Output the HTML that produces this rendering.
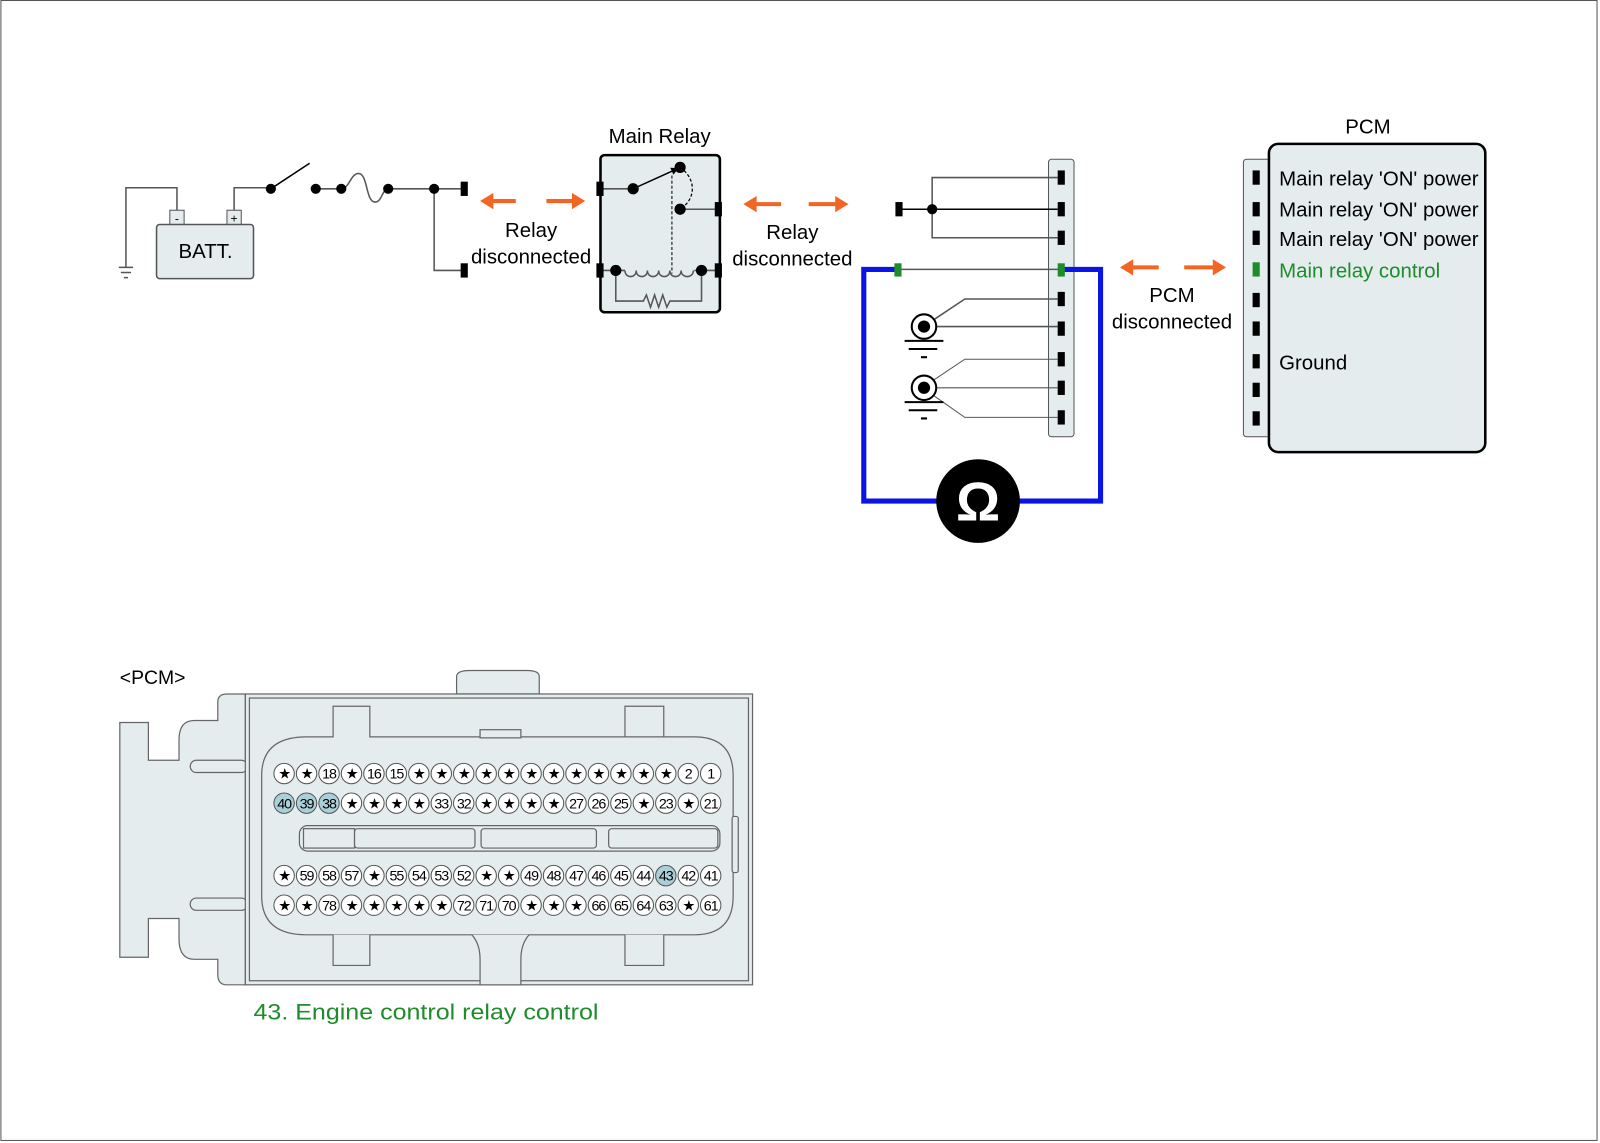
<!DOCTYPE html>
<html><head><meta charset="utf-8"><style>
html,body{margin:0;padding:0;background:#fff;}
svg{display:block;}
text{font-family:"Liberation Sans",Arial,sans-serif;}
</style></head><body>
<svg width="1600" height="1143" viewBox="0 0 1567 1120" xmlns="http://www.w3.org/2000/svg">
<defs>
<marker id="ah" viewBox="0 0 10 10" refX="9" refY="5" markerWidth="5" markerHeight="5" orient="auto"><path d="M0,0 L10,5 L0,10z" fill="#000"/></marker>
</defs>
<rect x="0.5" y="0.5" width="1564" height="1117" fill="#fff" stroke="#555" stroke-width="1"/>

<!-- Battery -->
<g stroke="#555" stroke-width="1.5" fill="none">
<path d="M173,206 V184 H123 V262"/>
<path d="M229,206 V184 H265"/>
<path d="M116,262 H130 M118,267 H128 M121,272 H125"/>
</g>
<rect x="166" y="206" width="14" height="14" fill="#e4ecee" stroke="#555"/>
<rect x="222" y="206" width="14" height="14" fill="#e4ecee" stroke="#555"/>
<text x="173" y="218" font-size="12" text-anchor="middle">-</text>
<text x="229" y="218" font-size="12" text-anchor="middle">+</text>
<rect x="153" y="220" width="95" height="53" rx="3" fill="#e4ecee" stroke="#555" stroke-width="1.5"/>
<text x="201" y="253" font-size="20" text-anchor="middle">BATT.</text>
<line x1="265" y1="185" x2="303" y2="160" stroke="#000" stroke-width="1.5"/>
<g stroke="#555" stroke-width="1.5" fill="none">
<path d="M309,185 H334"/>
<path d="M334,185 C342,185 343,170 351,170 C360,170 358,198 367,198 C374,198 374,185 380,185 H452"/>
<path d="M425,185 V265 H452"/>
</g>
<g fill="#000">
<circle cx="265" cy="185" r="5"/><circle cx="309" cy="185" r="5"/><circle cx="334" cy="185" r="5"/><circle cx="380" cy="185" r="5"/><circle cx="425" cy="185" r="5"/>
<rect x="451" y="178" width="7" height="14"/><rect x="451" y="258" width="7" height="14"/>
</g>

<!-- arrows -->
<g stroke="#f26522" stroke-width="4" fill="#f26522">
<line x1="480" y1="197" x2="505" y2="197"/><path d="M470,197 L483,189 L483,205z" stroke="none"/>
<line x1="535" y1="197" x2="562" y2="197"/><path d="M573,197 L560,189 L560,205z" stroke="none"/>
<line x1="738" y1="200" x2="765" y2="200"/><path d="M728,200 L741,192 L741,208z" stroke="none"/>
<line x1="792" y1="200" x2="820" y2="200"/><path d="M831,200 L818,192 L818,208z" stroke="none"/>
<line x1="1107" y1="262" x2="1135" y2="262"/><path d="M1097,262 L1110,254 L1110,270z" stroke="none"/>
<line x1="1160" y1="262" x2="1190" y2="262"/><path d="M1201,262 L1188,254 L1188,270z" stroke="none"/>
</g>
<g font-size="20" text-anchor="middle">
<text x="520" y="232">Relay</text><text x="520" y="258">disconnected</text>
<text x="776" y="234">Relay</text><text x="776" y="260">disconnected</text>
<text x="1148" y="296">PCM</text><text x="1148" y="322">disconnected</text>
<text x="646" y="140">Main Relay</text>
<text x="1340" y="131">PCM</text>
</g>

<!-- Main relay -->
<rect x="588" y="152" width="117" height="154" rx="4" fill="#e4ecee" stroke="#000" stroke-width="2.5"/>
<g stroke="#555" stroke-width="1.5" fill="none">
<path d="M588,185 H620"/>
<path d="M666,205 H703"/>
<path d="M588,265 H612 M680,265 H703"/>
<path d="M612,265 c0,8 11,8 11,0 c0,8 11,8 11,0 c0,8 11,8 11,0 c0,8 11,8 11,0 c0,8 11,8 11,0 c0,8 12,8 12,0"/>
<path d="M603,265 V295 H630 l3,-6 l4,12 l4,-12 l4,12 l4,-12 l4,12 l3,-6 H687 V265"/>
</g>
<line x1="620" y1="185" x2="664" y2="165" stroke="#000" stroke-width="1.5" marker-end="url(#ah)"/>
<path d="M666,164 C682,175 682,195 666,205" stroke="#000" stroke-width="1.2" stroke-dasharray="3,2" fill="none"/>
<line x1="658" y1="172" x2="658" y2="268" stroke="#000" stroke-width="1" stroke-dasharray="3,2"/>
<g fill="#000">
<circle cx="620" cy="185" r="5.5"/><circle cx="666" cy="164" r="5.5"/><circle cx="666" cy="205" r="5.5"/><circle cx="603" cy="265" r="5.5"/><circle cx="687" cy="265" r="5.5"/>
<rect x="584" y="178" width="7" height="14"/><rect x="584" y="258" width="7" height="14"/>
<rect x="700" y="198" width="7" height="14"/><rect x="700" y="258" width="7" height="14"/>
</g>

<!-- middle connector -->
<rect x="1027" y="156" width="25" height="272" rx="3" fill="#e4ecee" stroke="#555"/>
<g stroke="#555" stroke-width="1.5" fill="none">
<path d="M1036,174 H913 V233 H1036"/>
<path d="M880,205 H1036" stroke="#000"/>
<path d="M880,264 H1040"/>
<path d="M915,313 L945,293 H1036 M905,320 H1036"/>
<path d="M915,372 L945,352 H1036 M905,380 H1036 M915,388 L945,409 H1036" stroke-width="1"/>
</g>
<path d="M880,264 H846 V491 H1078 V264 H1040" stroke="#0a14e6" stroke-width="5" fill="none"/>
<g fill="#000">
<rect x="877" y="198" width="7" height="14"/><circle cx="913" cy="205" r="5"/>
<rect x="1036" y="167" width="7" height="14"/><rect x="1036" y="198" width="7" height="14"/><rect x="1036" y="226" width="7" height="14"/>
<rect x="1036" y="286" width="7" height="14"/><rect x="1036" y="315" width="7" height="14"/><rect x="1036" y="345" width="7" height="14"/><rect x="1036" y="373" width="7" height="14"/><rect x="1036" y="402" width="7" height="14"/>
</g>
<rect x="876" y="258" width="7" height="13" fill="#1e8c2a"/>
<rect x="1036" y="258" width="7" height="13" fill="#1e8c2a"/>
<g stroke="#000" stroke-width="2" fill="#fff">
<circle cx="905" cy="320" r="12"/><circle cx="905" cy="380" r="12"/>
</g>
<g fill="#000"><circle cx="905" cy="320" r="6"/><circle cx="905" cy="380" r="6"/></g>
<g stroke="#000" stroke-width="2">
<path d="M886,334 H924 M890,342 H918 M902,350 H908"/>
<path d="M886,394 H924 M890,402 H918 M902,410 H908"/>
</g>
<circle cx="958" cy="491" r="41" fill="#000"/>
<text x="958" y="510" font-size="54" font-weight="bold" fill="#fff" text-anchor="middle">Ω</text>

<!-- PCM -->
<rect x="1218" y="156" width="30" height="272" rx="3" fill="#e4ecee" stroke="#555"/>
<rect x="1243" y="141" width="212" height="302" rx="9" fill="#e4ecee" stroke="#000" stroke-width="2.5"/>
<g fill="#000">
<rect x="1227" y="167" width="7" height="14"/><rect x="1227" y="198" width="7" height="14"/><rect x="1227" y="226" width="7" height="14"/>
<rect x="1227" y="287" width="7" height="14"/><rect x="1227" y="315" width="7" height="14"/><rect x="1227" y="347" width="7" height="14"/><rect x="1227" y="375" width="7" height="14"/><rect x="1227" y="403" width="7" height="14"/>
</g>
<rect x="1227" y="257" width="7" height="14" fill="#1e8c2a"/>
<g font-size="20">
<text x="1253" y="182">Main relay 'ON' power</text>
<text x="1253" y="212">Main relay 'ON' power</text>
<text x="1253" y="241">Main relay 'ON' power</text>
<text x="1253" y="272" fill="#1e8c2a">Main relay control</text>
<text x="1253" y="362">Ground</text>
</g>

<!-- Lower connector -->
<text x="117" y="670" font-size="19">&lt;PCM&gt;</text>
<g fill="#e4ecee" stroke="#666" stroke-width="1.2">
<path d="M117,708 H145 V745 H175 V725 Q175,706 190,706 H213 V688 Q213,680 222,680 H240 V965 H222 Q213,965 213,955 V940 H190 Q175,940 175,920 V900 H145 V938 H117 Z"/>
<rect x="186" y="745" width="56" height="12" rx="6"/>
<rect x="186" y="880" width="56" height="12" rx="6"/>
<path d="M447,680 V663 Q447,657 460,657 H516 Q528,657 528,663 V680 Z"/>
<rect x="240" y="680" width="497" height="285"/>
<rect x="244" y="684" width="489" height="277" fill="none"/>
<path d="M256,760 Q256,722 300,722 H326 V692 H362 V722 H650 V692 H612 V722 H680 Q718,722 718,760 V878 Q718,916 680,916 H300 Q256,916 256,878 Z"/>
<rect x="470" y="715" width="40" height="8"/>
<path d="M326,916 V946 H362 V916 M612,916 V946 H650 V916"/>
<path d="M462,916 Q470,925 470,940 V965 H510 V940 Q510,925 518,916"/>
<rect x="717" y="800" width="6" height="55" rx="2"/>
<rect x="293" y="809" width="412" height="25" rx="8"/>
<rect x="297" y="812" width="50" height="19"/>
<rect x="347" y="812" width="118" height="19" rx="3"/>
<rect x="471" y="812" width="113" height="19" rx="3"/>
<rect x="596" y="812" width="107" height="19" rx="3"/>
</g>
<g stroke="#555" stroke-width="1" fill="#fff">
<circle cx="278" cy="758" r="10"/><circle cx="300" cy="758" r="10"/><circle cx="322" cy="758" r="10"/><circle cx="344" cy="758" r="10"/><circle cx="366" cy="758" r="10"/><circle cx="388" cy="758" r="10"/><circle cx="410" cy="758" r="10"/><circle cx="432" cy="758" r="10"/><circle cx="454" cy="758" r="10"/><circle cx="476" cy="758" r="10"/><circle cx="498" cy="758" r="10"/><circle cx="520" cy="758" r="10"/><circle cx="542" cy="758" r="10"/><circle cx="564" cy="758" r="10"/><circle cx="586" cy="758" r="10"/><circle cx="608" cy="758" r="10"/><circle cx="630" cy="758" r="10"/><circle cx="652" cy="758" r="10"/><circle cx="674" cy="758" r="10"/><circle cx="696" cy="758" r="10"/>
<circle cx="278" cy="787" r="10" fill="#a9cfd8"/><circle cx="300" cy="787" r="10" fill="#a9cfd8"/><circle cx="322" cy="787" r="10" fill="#a9cfd8"/><circle cx="344" cy="787" r="10"/><circle cx="366" cy="787" r="10"/><circle cx="388" cy="787" r="10"/><circle cx="410" cy="787" r="10"/><circle cx="432" cy="787" r="10"/><circle cx="454" cy="787" r="10"/><circle cx="476" cy="787" r="10"/><circle cx="498" cy="787" r="10"/><circle cx="520" cy="787" r="10"/><circle cx="542" cy="787" r="10"/><circle cx="564" cy="787" r="10"/><circle cx="586" cy="787" r="10"/><circle cx="608" cy="787" r="10"/><circle cx="630" cy="787" r="10"/><circle cx="652" cy="787" r="10"/><circle cx="674" cy="787" r="10"/><circle cx="696" cy="787" r="10"/>
<circle cx="278" cy="858" r="10"/><circle cx="300" cy="858" r="10"/><circle cx="322" cy="858" r="10"/><circle cx="344" cy="858" r="10"/><circle cx="366" cy="858" r="10"/><circle cx="388" cy="858" r="10"/><circle cx="410" cy="858" r="10"/><circle cx="432" cy="858" r="10"/><circle cx="454" cy="858" r="10"/><circle cx="476" cy="858" r="10"/><circle cx="498" cy="858" r="10"/><circle cx="520" cy="858" r="10"/><circle cx="542" cy="858" r="10"/><circle cx="564" cy="858" r="10"/><circle cx="586" cy="858" r="10"/><circle cx="608" cy="858" r="10"/><circle cx="630" cy="858" r="10"/><circle cx="652" cy="858" r="10" fill="#a9cfd8"/><circle cx="674" cy="858" r="10"/><circle cx="696" cy="858" r="10"/>
<circle cx="278" cy="887" r="10"/><circle cx="300" cy="887" r="10"/><circle cx="322" cy="887" r="10"/><circle cx="344" cy="887" r="10"/><circle cx="366" cy="887" r="10"/><circle cx="388" cy="887" r="10"/><circle cx="410" cy="887" r="10"/><circle cx="432" cy="887" r="10"/><circle cx="454" cy="887" r="10"/><circle cx="476" cy="887" r="10"/><circle cx="498" cy="887" r="10"/><circle cx="520" cy="887" r="10"/><circle cx="542" cy="887" r="10"/><circle cx="564" cy="887" r="10"/><circle cx="586" cy="887" r="10"/><circle cx="608" cy="887" r="10"/><circle cx="630" cy="887" r="10"/><circle cx="652" cy="887" r="10"/><circle cx="674" cy="887" r="10"/><circle cx="696" cy="887" r="10"/>
</g>
<g font-size="14" text-anchor="middle" letter-spacing="-1">
<text x="278" y="763">★</text><text x="300" y="763">★</text><text x="322" y="763">18</text><text x="344" y="763">★</text><text x="366" y="763">16</text><text x="388" y="763">15</text><text x="410" y="763">★</text><text x="432" y="763">★</text><text x="454" y="763">★</text><text x="476" y="763">★</text><text x="498" y="763">★</text><text x="520" y="763">★</text><text x="542" y="763">★</text><text x="564" y="763">★</text><text x="586" y="763">★</text><text x="608" y="763">★</text><text x="630" y="763">★</text><text x="652" y="763">★</text><text x="674" y="763">2</text><text x="696" y="763">1</text>
<text x="278" y="792">40</text><text x="300" y="792">39</text><text x="322" y="792">38</text><text x="344" y="792">★</text><text x="366" y="792">★</text><text x="388" y="792">★</text><text x="410" y="792">★</text><text x="432" y="792">33</text><text x="454" y="792">32</text><text x="476" y="792">★</text><text x="498" y="792">★</text><text x="520" y="792">★</text><text x="542" y="792">★</text><text x="564" y="792">27</text><text x="586" y="792">26</text><text x="608" y="792">25</text><text x="630" y="792">★</text><text x="652" y="792">23</text><text x="674" y="792">★</text><text x="696" y="792">21</text>
<text x="278" y="863">★</text><text x="300" y="863">59</text><text x="322" y="863">58</text><text x="344" y="863">57</text><text x="366" y="863">★</text><text x="388" y="863">55</text><text x="410" y="863">54</text><text x="432" y="863">53</text><text x="454" y="863">52</text><text x="476" y="863">★</text><text x="498" y="863">★</text><text x="520" y="863">49</text><text x="542" y="863">48</text><text x="564" y="863">47</text><text x="586" y="863">46</text><text x="608" y="863">45</text><text x="630" y="863">44</text><text x="652" y="863">43</text><text x="674" y="863">42</text><text x="696" y="863">41</text>
<text x="278" y="892">★</text><text x="300" y="892">★</text><text x="322" y="892">78</text><text x="344" y="892">★</text><text x="366" y="892">★</text><text x="388" y="892">★</text><text x="410" y="892">★</text><text x="432" y="892">★</text><text x="454" y="892">72</text><text x="476" y="892">71</text><text x="498" y="892">70</text><text x="520" y="892">★</text><text x="542" y="892">★</text><text x="564" y="892">★</text><text x="586" y="892">66</text><text x="608" y="892">65</text><text x="630" y="892">64</text><text x="652" y="892">63</text><text x="674" y="892">★</text><text x="696" y="892">61</text>
</g>
<text x="248" y="999" font-size="22" fill="#1e8c2a" textLength="338" lengthAdjust="spacingAndGlyphs">43. Engine control relay control</text>
</svg>
</body></html>
